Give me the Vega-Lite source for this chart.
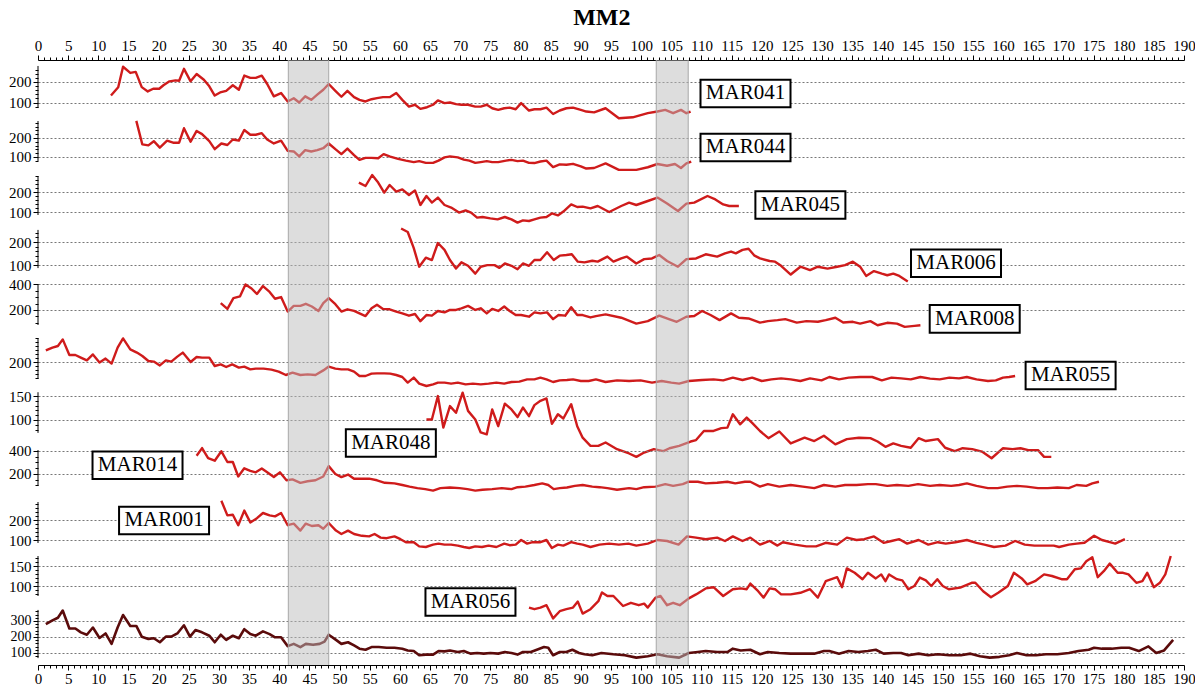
{
"$schema":"https://vega.github.io/schema/vega-lite/v6.json",
"autosize":{"type":"pad"},
"padding":{"left":8,"top":6,"right":5,"bottom":5},
"title":{"text":"MM2","font":"Liberation Serif","fontSize":24,"fontWeight":"bold","anchor":"middle","color":"#000","offset":8},
"config":{"view":{"stroke":null},"axis":{"labelFont":"Liberation Serif","labelFontSize":15,"labelColor":"#000","domainColor":"#000","tickColor":"#000"},"axisY":{"labelOverlap":false,"title":null,"domain":false,"labelPadding":2,"grid":true,"gridDash":[2,2],"gridColor":"#777"}},
"spacing":0,"bounds":"flush",
"datasets":{
"bands":[{"a":41.5,"b":48.2},{"a":102.5,"b":107.8}],
"d":[
{"s":"MAR041","x":12.1,"v":134},{"s":"MAR041","x":13.3,"v":174},{"s":"MAR041","x":14.1,"v":274},{"s":"MAR041","x":15.3,"v":244},{"s":"MAR041","x":16.2,"v":249},{"s":"MAR041","x":17.2,"v":175},{"s":"MAR041","x":18.2,"v":154},{"s":"MAR041","x":19.1,"v":167},{"s":"MAR041","x":20.1,"v":167},{"s":"MAR041","x":20.8,"v":184},{"s":"MAR041","x":21.8,"v":203},{"s":"MAR041","x":22.8,"v":208},{"s":"MAR041","x":23.4,"v":206},{"s":"MAR041","x":24.2,"v":264},{"s":"MAR041","x":25.3,"v":203},{"s":"MAR041","x":26.3,"v":239},{"s":"MAR041","x":27.5,"v":211},{"s":"MAR041","x":28.4,"v":179},{"s":"MAR041","x":29.3,"v":134},{"s":"MAR041","x":30.2,"v":149},{"s":"MAR041","x":31.2,"v":157},{"s":"MAR041","x":32.3,"v":184},{"s":"MAR041","x":33.3,"v":162},{"s":"MAR041","x":34.2,"v":231},{"s":"MAR041","x":35.2,"v":220},{"s":"MAR041","x":36.1,"v":220},{"s":"MAR041","x":37.1,"v":231},{"s":"MAR041","x":38.0,"v":190},{"s":"MAR041","x":39.1,"v":130},{"s":"MAR041","x":40.3,"v":146},{"s":"MAR041","x":41.4,"v":105},{"s":"MAR041","x":42.4,"v":121},{"s":"MAR041","x":43.3,"v":100},{"s":"MAR041","x":44.3,"v":130},{"s":"MAR041","x":45.3,"v":113},{"s":"MAR041","x":46.3,"v":138},{"s":"MAR041","x":47.3,"v":162},{"s":"MAR041","x":48.2,"v":190},{"s":"MAR041","x":49.3,"v":157},{"s":"MAR041","x":50.3,"v":128},{"s":"MAR041","x":51.3,"v":157},{"s":"MAR041","x":52.4,"v":126},{"s":"MAR041","x":53.3,"v":113},{"s":"MAR041","x":54.3,"v":105},{"s":"MAR041","x":55.3,"v":116},{"s":"MAR041","x":56.2,"v":121},{"s":"MAR041","x":57.2,"v":126},{"s":"MAR041","x":58.3,"v":126},{"s":"MAR041","x":59.4,"v":146},{"s":"MAR041","x":60.4,"v":113},{"s":"MAR041","x":61.5,"v":80},{"s":"MAR041","x":62.5,"v":89},{"s":"MAR041","x":63.4,"v":69},{"s":"MAR041","x":64.5,"v":77},{"s":"MAR041","x":65.5,"v":89},{"s":"MAR041","x":66.3,"v":110},{"s":"MAR041","x":67.4,"v":97},{"s":"MAR041","x":68.3,"v":100},{"s":"MAR041","x":69.3,"v":92},{"s":"MAR041","x":70.2,"v":89},{"s":"MAR041","x":71.3,"v":89},{"s":"MAR041","x":72.5,"v":80},{"s":"MAR041","x":73.4,"v":80},{"s":"MAR041","x":74.4,"v":89},{"s":"MAR041","x":75.3,"v":72},{"s":"MAR041","x":76.3,"v":64},{"s":"MAR041","x":77.3,"v":72},{"s":"MAR041","x":78.2,"v":75},{"s":"MAR041","x":79.2,"v":67},{"s":"MAR041","x":80.1,"v":97},{"s":"MAR041","x":81.4,"v":61},{"s":"MAR041","x":82.3,"v":67},{"s":"MAR041","x":83.3,"v":67},{"s":"MAR041","x":84.3,"v":75},{"s":"MAR041","x":85.4,"v":44},{"s":"MAR041","x":86.5,"v":61},{"s":"MAR041","x":87.6,"v":72},{"s":"MAR041","x":88.7,"v":75},{"s":"MAR041","x":90.0,"v":64},{"s":"MAR041","x":90.9,"v":56},{"s":"MAR041","x":92.2,"v":52},{"s":"MAR041","x":94.1,"v":72},{"s":"MAR041","x":96.3,"v":23},{"s":"MAR041","x":98.6,"v":28},{"s":"MAR041","x":101.1,"v":48},{"s":"MAR041","x":102.7,"v":56},{"s":"MAR041","x":104.0,"v":64},{"s":"MAR041","x":105.3,"v":48},{"s":"MAR041","x":106.6,"v":64},{"s":"MAR041","x":107.5,"v":48},{"s":"MAR041","x":108.2,"v":56},
{"s":"MAR044","x":16.3,"v":290},{"s":"MAR044","x":17.3,"v":166},{"s":"MAR044","x":18.3,"v":161},{"s":"MAR044","x":19.2,"v":183},{"s":"MAR044","x":20.2,"v":149},{"s":"MAR044","x":21.4,"v":186},{"s":"MAR044","x":22.4,"v":175},{"s":"MAR044","x":23.4,"v":175},{"s":"MAR044","x":24.2,"v":251},{"s":"MAR044","x":25.3,"v":180},{"s":"MAR044","x":26.3,"v":237},{"s":"MAR044","x":27.2,"v":220},{"s":"MAR044","x":28.4,"v":183},{"s":"MAR044","x":29.3,"v":141},{"s":"MAR044","x":30.4,"v":171},{"s":"MAR044","x":31.4,"v":163},{"s":"MAR044","x":32.3,"v":192},{"s":"MAR044","x":33.3,"v":186},{"s":"MAR044","x":34.2,"v":242},{"s":"MAR044","x":35.2,"v":217},{"s":"MAR044","x":36.1,"v":217},{"s":"MAR044","x":37.1,"v":225},{"s":"MAR044","x":38.0,"v":192},{"s":"MAR044","x":39.1,"v":171},{"s":"MAR044","x":40.3,"v":186},{"s":"MAR044","x":41.4,"v":132},{"s":"MAR044","x":42.4,"v":129},{"s":"MAR044","x":43.3,"v":103},{"s":"MAR044","x":44.3,"v":136},{"s":"MAR044","x":45.3,"v":129},{"s":"MAR044","x":46.3,"v":136},{"s":"MAR044","x":47.3,"v":146},{"s":"MAR044","x":48.2,"v":171},{"s":"MAR044","x":49.3,"v":141},{"s":"MAR044","x":50.3,"v":115},{"s":"MAR044","x":51.3,"v":144},{"s":"MAR044","x":52.4,"v":110},{"s":"MAR044","x":53.3,"v":85},{"s":"MAR044","x":54.3,"v":95},{"s":"MAR044","x":55.3,"v":95},{"s":"MAR044","x":56.4,"v":93},{"s":"MAR044","x":57.3,"v":115},{"s":"MAR044","x":58.4,"v":102},{"s":"MAR044","x":59.7,"v":90},{"s":"MAR044","x":61.0,"v":81},{"s":"MAR044","x":62.3,"v":73},{"s":"MAR044","x":63.2,"v":78},{"s":"MAR044","x":64.3,"v":69},{"s":"MAR044","x":65.5,"v":69},{"s":"MAR044","x":66.4,"v":81},{"s":"MAR044","x":67.4,"v":98},{"s":"MAR044","x":68.3,"v":103},{"s":"MAR044","x":69.6,"v":98},{"s":"MAR044","x":70.6,"v":86},{"s":"MAR044","x":71.5,"v":81},{"s":"MAR044","x":72.5,"v":69},{"s":"MAR044","x":73.4,"v":73},{"s":"MAR044","x":74.4,"v":78},{"s":"MAR044","x":75.3,"v":73},{"s":"MAR044","x":76.3,"v":73},{"s":"MAR044","x":77.6,"v":81},{"s":"MAR044","x":78.5,"v":85},{"s":"MAR044","x":79.5,"v":78},{"s":"MAR044","x":80.4,"v":81},{"s":"MAR044","x":81.4,"v":69},{"s":"MAR044","x":82.3,"v":68},{"s":"MAR044","x":83.3,"v":76},{"s":"MAR044","x":84.3,"v":81},{"s":"MAR044","x":85.4,"v":47},{"s":"MAR044","x":86.5,"v":61},{"s":"MAR044","x":87.6,"v":59},{"s":"MAR044","x":88.7,"v":64},{"s":"MAR044","x":90.0,"v":51},{"s":"MAR044","x":90.9,"v":39},{"s":"MAR044","x":92.2,"v":42},{"s":"MAR044","x":94.1,"v":66},{"s":"MAR044","x":96.3,"v":32},{"s":"MAR044","x":99.2,"v":32},{"s":"MAR044","x":101.1,"v":46},{"s":"MAR044","x":102.7,"v":63},{"s":"MAR044","x":104.3,"v":54},{"s":"MAR044","x":105.6,"v":63},{"s":"MAR044","x":106.6,"v":42},{"s":"MAR044","x":107.5,"v":66},{"s":"MAR044","x":108.3,"v":76},
{"s":"MAR045","x":53.2,"v":247},{"s":"MAR045","x":54.3,"v":230},{"s":"MAR045","x":55.4,"v":285},{"s":"MAR045","x":56.4,"v":247},{"s":"MAR045","x":57.4,"v":197},{"s":"MAR045","x":58.3,"v":235},{"s":"MAR045","x":59.4,"v":202},{"s":"MAR045","x":60.4,"v":213},{"s":"MAR045","x":61.5,"v":185},{"s":"MAR045","x":62.5,"v":208},{"s":"MAR045","x":63.4,"v":135},{"s":"MAR045","x":64.4,"v":180},{"s":"MAR045","x":65.3,"v":147},{"s":"MAR045","x":66.3,"v":172},{"s":"MAR045","x":67.4,"v":135},{"s":"MAR045","x":68.5,"v":122},{"s":"MAR045","x":69.8,"v":97},{"s":"MAR045","x":70.9,"v":108},{"s":"MAR045","x":71.8,"v":97},{"s":"MAR045","x":72.8,"v":72},{"s":"MAR045","x":73.7,"v":75},{"s":"MAR045","x":75.0,"v":68},{"s":"MAR045","x":76.2,"v":63},{"s":"MAR045","x":77.4,"v":75},{"s":"MAR045","x":78.5,"v":63},{"s":"MAR045","x":79.5,"v":47},{"s":"MAR045","x":80.4,"v":58},{"s":"MAR045","x":81.4,"v":55},{"s":"MAR045","x":82.3,"v":63},{"s":"MAR045","x":83.3,"v":72},{"s":"MAR045","x":84.3,"v":75},{"s":"MAR045","x":85.2,"v":93},{"s":"MAR045","x":86.2,"v":83},{"s":"MAR045","x":87.1,"v":102},{"s":"MAR045","x":88.4,"v":138},{"s":"MAR045","x":89.4,"v":125},{"s":"MAR045","x":90.3,"v":127},{"s":"MAR045","x":91.6,"v":118},{"s":"MAR045","x":92.8,"v":130},{"s":"MAR045","x":94.7,"v":100},{"s":"MAR045","x":96.7,"v":130},{"s":"MAR045","x":98.0,"v":147},{"s":"MAR045","x":99.2,"v":135},{"s":"MAR045","x":101.1,"v":155},{"s":"MAR045","x":102.7,"v":172},{"s":"MAR045","x":104.3,"v":142},{"s":"MAR045","x":106.1,"v":105},{"s":"MAR045","x":107.5,"v":142},{"s":"MAR045","x":108.8,"v":147},{"s":"MAR045","x":111.0,"v":180},{"s":"MAR045","x":112.3,"v":163},{"s":"MAR045","x":113.6,"v":138},{"s":"MAR045","x":114.6,"v":130},{"s":"MAR045","x":116.2,"v":130},
{"s":"MAR006","x":60.2,"v":259},{"s":"MAR006","x":61.3,"v":244},{"s":"MAR006","x":62.3,"v":174},{"s":"MAR006","x":63.2,"v":93},{"s":"MAR006","x":64.3,"v":132},{"s":"MAR006","x":65.3,"v":122},{"s":"MAR006","x":66.3,"v":196},{"s":"MAR006","x":67.4,"v":166},{"s":"MAR006","x":68.3,"v":122},{"s":"MAR006","x":69.3,"v":85},{"s":"MAR006","x":70.2,"v":112},{"s":"MAR006","x":71.3,"v":97},{"s":"MAR006","x":72.5,"v":63},{"s":"MAR006","x":73.4,"v":93},{"s":"MAR006","x":74.5,"v":100},{"s":"MAR006","x":75.7,"v":100},{"s":"MAR006","x":76.5,"v":88},{"s":"MAR006","x":77.4,"v":107},{"s":"MAR006","x":78.5,"v":97},{"s":"MAR006","x":79.5,"v":82},{"s":"MAR006","x":80.4,"v":107},{"s":"MAR006","x":81.4,"v":97},{"s":"MAR006","x":82.3,"v":122},{"s":"MAR006","x":83.3,"v":122},{"s":"MAR006","x":84.4,"v":156},{"s":"MAR006","x":85.5,"v":122},{"s":"MAR006","x":86.5,"v":141},{"s":"MAR006","x":87.6,"v":144},{"s":"MAR006","x":88.5,"v":147},{"s":"MAR006","x":89.5,"v":115},{"s":"MAR006","x":90.6,"v":112},{"s":"MAR006","x":91.9,"v":119},{"s":"MAR006","x":92.8,"v":115},{"s":"MAR006","x":94.4,"v":137},{"s":"MAR006","x":95.4,"v":115},{"s":"MAR006","x":96.7,"v":129},{"s":"MAR006","x":97.6,"v":137},{"s":"MAR006","x":99.2,"v":107},{"s":"MAR006","x":100.5,"v":126},{"s":"MAR006","x":101.8,"v":129},{"s":"MAR006","x":103.0,"v":144},{"s":"MAR006","x":104.3,"v":118},{"s":"MAR006","x":106.1,"v":93},{"s":"MAR006","x":107.5,"v":126},{"s":"MAR006","x":109.1,"v":129},{"s":"MAR006","x":110.7,"v":147},{"s":"MAR006","x":112.6,"v":137},{"s":"MAR006","x":113.9,"v":151},{"s":"MAR006","x":114.9,"v":159},{"s":"MAR006","x":115.7,"v":151},{"s":"MAR006","x":116.8,"v":166},{"s":"MAR006","x":117.8,"v":171},{"s":"MAR006","x":118.8,"v":141},{"s":"MAR006","x":119.7,"v":129},{"s":"MAR006","x":121.3,"v":118},{"s":"MAR006","x":122.2,"v":115},{"s":"MAR006","x":123.2,"v":97},{"s":"MAR006","x":124.8,"v":59},{"s":"MAR006","x":126.4,"v":93},{"s":"MAR006","x":128.0,"v":78},{"s":"MAR006","x":129.3,"v":93},{"s":"MAR006","x":130.9,"v":85},{"s":"MAR006","x":132.5,"v":93},{"s":"MAR006","x":133.8,"v":100},{"s":"MAR006","x":135.1,"v":115},{"s":"MAR006","x":136.3,"v":93},{"s":"MAR006","x":137.3,"v":53},{"s":"MAR006","x":138.6,"v":74},{"s":"MAR006","x":139.9,"v":63},{"s":"MAR006","x":140.8,"v":56},{"s":"MAR006","x":141.8,"v":63},{"s":"MAR006","x":142.8,"v":53},{"s":"MAR006","x":144.2,"v":29},
{"s":"MAR008","x":30.3,"v":253},{"s":"MAR008","x":31.4,"v":208},{"s":"MAR008","x":32.4,"v":293},{"s":"MAR008","x":33.5,"v":307},{"s":"MAR008","x":34.4,"v":400},{"s":"MAR008","x":35.4,"v":368},{"s":"MAR008","x":36.3,"v":325},{"s":"MAR008","x":37.3,"v":387},{"s":"MAR008","x":38.4,"v":341},{"s":"MAR008","x":39.3,"v":288},{"s":"MAR008","x":40.3,"v":301},{"s":"MAR008","x":41.4,"v":187},{"s":"MAR008","x":42.4,"v":232},{"s":"MAR008","x":43.5,"v":232},{"s":"MAR008","x":44.4,"v":248},{"s":"MAR008","x":45.4,"v":227},{"s":"MAR008","x":46.5,"v":192},{"s":"MAR008","x":47.3,"v":253},{"s":"MAR008","x":48.2,"v":293},{"s":"MAR008","x":49.3,"v":245},{"s":"MAR008","x":50.3,"v":187},{"s":"MAR008","x":51.3,"v":205},{"s":"MAR008","x":52.4,"v":192},{"s":"MAR008","x":53.3,"v":173},{"s":"MAR008","x":54.3,"v":152},{"s":"MAR008","x":55.3,"v":213},{"s":"MAR008","x":56.2,"v":240},{"s":"MAR008","x":57.2,"v":208},{"s":"MAR008","x":58.3,"v":205},{"s":"MAR008","x":59.4,"v":187},{"s":"MAR008","x":60.4,"v":173},{"s":"MAR008","x":61.5,"v":155},{"s":"MAR008","x":62.5,"v":168},{"s":"MAR008","x":63.4,"v":112},{"s":"MAR008","x":64.4,"v":160},{"s":"MAR008","x":65.3,"v":155},{"s":"MAR008","x":66.3,"v":192},{"s":"MAR008","x":67.4,"v":181},{"s":"MAR008","x":68.3,"v":200},{"s":"MAR008","x":69.3,"v":200},{"s":"MAR008","x":70.2,"v":213},{"s":"MAR008","x":71.3,"v":232},{"s":"MAR008","x":72.5,"v":200},{"s":"MAR008","x":73.4,"v":213},{"s":"MAR008","x":74.4,"v":173},{"s":"MAR008","x":75.3,"v":208},{"s":"MAR008","x":76.3,"v":192},{"s":"MAR008","x":77.3,"v":227},{"s":"MAR008","x":78.2,"v":192},{"s":"MAR008","x":79.2,"v":160},{"s":"MAR008","x":80.1,"v":160},{"s":"MAR008","x":81.4,"v":147},{"s":"MAR008","x":82.3,"v":181},{"s":"MAR008","x":83.3,"v":173},{"s":"MAR008","x":84.4,"v":181},{"s":"MAR008","x":85.4,"v":128},{"s":"MAR008","x":86.3,"v":160},{"s":"MAR008","x":87.4,"v":155},{"s":"MAR008","x":88.4,"v":221},{"s":"MAR008","x":89.4,"v":160},{"s":"MAR008","x":90.3,"v":160},{"s":"MAR008","x":91.6,"v":141},{"s":"MAR008","x":92.5,"v":152},{"s":"MAR008","x":94.1,"v":165},{"s":"MAR008","x":96.7,"v":139},{"s":"MAR008","x":99.2,"v":93},{"s":"MAR008","x":101.1,"v":112},{"s":"MAR008","x":103.0,"v":155},{"s":"MAR008","x":104.6,"v":128},{"s":"MAR008","x":105.9,"v":107},{"s":"MAR008","x":107.5,"v":147},{"s":"MAR008","x":108.8,"v":152},{"s":"MAR008","x":110.1,"v":192},{"s":"MAR008","x":111.5,"v":160},{"s":"MAR008","x":113.0,"v":120},{"s":"MAR008","x":114.9,"v":173},{"s":"MAR008","x":116.2,"v":139},{"s":"MAR008","x":117.8,"v":133},{"s":"MAR008","x":119.7,"v":101},{"s":"MAR008","x":121.0,"v":112},{"s":"MAR008","x":122.6,"v":120},{"s":"MAR008","x":123.9,"v":128},{"s":"MAR008","x":125.8,"v":101},{"s":"MAR008","x":127.4,"v":112},{"s":"MAR008","x":129.3,"v":107},{"s":"MAR008","x":130.6,"v":120},{"s":"MAR008","x":132.2,"v":139},{"s":"MAR008","x":133.5,"v":101},{"s":"MAR008","x":135.1,"v":107},{"s":"MAR008","x":136.3,"v":93},{"s":"MAR008","x":138.0,"v":112},{"s":"MAR008","x":139.2,"v":80},{"s":"MAR008","x":140.8,"v":99},{"s":"MAR008","x":142.4,"v":93},{"s":"MAR008","x":143.7,"v":67},{"s":"MAR008","x":145.3,"v":75},{"s":"MAR008","x":146.3,"v":80},
{"s":"MAR055","x":1.3,"v":258},{"s":"MAR055","x":2.4,"v":272},{"s":"MAR055","x":3.3,"v":280},{"s":"MAR055","x":4.1,"v":313},{"s":"MAR055","x":5.2,"v":235},{"s":"MAR055","x":6.2,"v":235},{"s":"MAR055","x":7.1,"v":222},{"s":"MAR055","x":8.1,"v":208},{"s":"MAR055","x":9.1,"v":238},{"s":"MAR055","x":10.2,"v":197},{"s":"MAR055","x":11.2,"v":217},{"s":"MAR055","x":12.2,"v":192},{"s":"MAR055","x":13.2,"v":272},{"s":"MAR055","x":14.1,"v":318},{"s":"MAR055","x":15.3,"v":263},{"s":"MAR055","x":16.4,"v":247},{"s":"MAR055","x":17.3,"v":230},{"s":"MAR055","x":18.3,"v":205},{"s":"MAR055","x":19.2,"v":202},{"s":"MAR055","x":20.2,"v":183},{"s":"MAR055","x":21.2,"v":208},{"s":"MAR055","x":22.1,"v":202},{"s":"MAR055","x":23.1,"v":227},{"s":"MAR055","x":24.0,"v":247},{"s":"MAR055","x":25.3,"v":200},{"s":"MAR055","x":26.3,"v":225},{"s":"MAR055","x":27.2,"v":222},{"s":"MAR055","x":28.4,"v":222},{"s":"MAR055","x":29.3,"v":180},{"s":"MAR055","x":30.3,"v":188},{"s":"MAR055","x":31.2,"v":175},{"s":"MAR055","x":32.2,"v":188},{"s":"MAR055","x":33.3,"v":172},{"s":"MAR055","x":34.2,"v":177},{"s":"MAR055","x":35.2,"v":163},{"s":"MAR055","x":36.1,"v":167},{"s":"MAR055","x":37.4,"v":167},{"s":"MAR055","x":38.7,"v":162},{"s":"MAR055","x":39.9,"v":152},{"s":"MAR055","x":41.1,"v":135},{"s":"MAR055","x":42.2,"v":147},{"s":"MAR055","x":43.5,"v":135},{"s":"MAR055","x":44.7,"v":138},{"s":"MAR055","x":46.0,"v":135},{"s":"MAR055","x":47.3,"v":158},{"s":"MAR055","x":48.2,"v":177},{"s":"MAR055","x":49.3,"v":167},{"s":"MAR055","x":50.3,"v":163},{"s":"MAR055","x":51.4,"v":163},{"s":"MAR055","x":52.4,"v":152},{"s":"MAR055","x":53.3,"v":130},{"s":"MAR055","x":54.3,"v":130},{"s":"MAR055","x":55.3,"v":142},{"s":"MAR055","x":56.2,"v":143},{"s":"MAR055","x":57.4,"v":143},{"s":"MAR055","x":58.4,"v":142},{"s":"MAR055","x":59.4,"v":135},{"s":"MAR055","x":60.4,"v":125},{"s":"MAR055","x":61.3,"v":97},{"s":"MAR055","x":62.3,"v":122},{"s":"MAR055","x":63.2,"v":92},{"s":"MAR055","x":64.4,"v":80},{"s":"MAR055","x":65.5,"v":88},{"s":"MAR055","x":66.3,"v":97},{"s":"MAR055","x":67.4,"v":97},{"s":"MAR055","x":68.5,"v":92},{"s":"MAR055","x":69.6,"v":97},{"s":"MAR055","x":70.9,"v":88},{"s":"MAR055","x":72.1,"v":92},{"s":"MAR055","x":73.4,"v":88},{"s":"MAR055","x":74.7,"v":92},{"s":"MAR055","x":76.0,"v":97},{"s":"MAR055","x":77.3,"v":92},{"s":"MAR055","x":78.5,"v":100},{"s":"MAR055","x":79.8,"v":102},{"s":"MAR055","x":81.1,"v":113},{"s":"MAR055","x":82.3,"v":113},{"s":"MAR055","x":83.3,"v":122},{"s":"MAR055","x":84.3,"v":113},{"s":"MAR055","x":85.4,"v":100},{"s":"MAR055","x":86.5,"v":108},{"s":"MAR055","x":87.7,"v":110},{"s":"MAR055","x":88.7,"v":113},{"s":"MAR055","x":90.0,"v":105},{"s":"MAR055","x":91.3,"v":105},{"s":"MAR055","x":92.5,"v":113},{"s":"MAR055","x":94.1,"v":100},{"s":"MAR055","x":96.0,"v":108},{"s":"MAR055","x":98.0,"v":105},{"s":"MAR055","x":99.9,"v":108},{"s":"MAR055","x":101.8,"v":97},{"s":"MAR055","x":103.4,"v":105},{"s":"MAR055","x":105.0,"v":97},{"s":"MAR055","x":106.3,"v":92},{"s":"MAR055","x":107.9,"v":105},{"s":"MAR055","x":110.1,"v":110},{"s":"MAR055","x":112.0,"v":113},{"s":"MAR055","x":113.6,"v":108},{"s":"MAR055","x":115.2,"v":122},{"s":"MAR055","x":116.8,"v":110},{"s":"MAR055","x":118.4,"v":122},{"s":"MAR055","x":120.0,"v":105},{"s":"MAR055","x":121.6,"v":113},{"s":"MAR055","x":123.2,"v":118},{"s":"MAR055","x":124.8,"v":113},{"s":"MAR055","x":126.4,"v":105},{"s":"MAR055","x":128.0,"v":118},{"s":"MAR055","x":129.9,"v":108},{"s":"MAR055","x":131.2,"v":125},{"s":"MAR055","x":132.8,"v":113},{"s":"MAR055","x":134.4,"v":122},{"s":"MAR055","x":136.3,"v":125},{"s":"MAR055","x":138.3,"v":125},{"s":"MAR055","x":139.9,"v":108},{"s":"MAR055","x":141.5,"v":122},{"s":"MAR055","x":143.1,"v":118},{"s":"MAR055","x":144.7,"v":113},{"s":"MAR055","x":146.3,"v":125},{"s":"MAR055","x":147.9,"v":117},{"s":"MAR055","x":149.5,"v":113},{"s":"MAR055","x":151.1,"v":122},{"s":"MAR055","x":152.7,"v":118},{"s":"MAR055","x":154.0,"v":125},{"s":"MAR055","x":155.6,"v":113},{"s":"MAR055","x":157.5,"v":105},{"s":"MAR055","x":158.8,"v":108},{"s":"MAR055","x":160.0,"v":122},{"s":"MAR055","x":161.0,"v":125},{"s":"MAR055","x":162.0,"v":130},
{"s":"MAR048","x":64.4,"v":101},{"s":"MAR048","x":65.3,"v":101},{"s":"MAR048","x":66.3,"v":150},{"s":"MAR048","x":67.2,"v":84},{"s":"MAR048","x":68.3,"v":129},{"s":"MAR048","x":69.3,"v":115},{"s":"MAR048","x":70.4,"v":157},{"s":"MAR048","x":71.3,"v":119},{"s":"MAR048","x":72.5,"v":101},{"s":"MAR048","x":73.4,"v":74},{"s":"MAR048","x":74.4,"v":70},{"s":"MAR048","x":75.3,"v":122},{"s":"MAR048","x":76.3,"v":87},{"s":"MAR048","x":77.4,"v":134},{"s":"MAR048","x":78.5,"v":122},{"s":"MAR048","x":79.5,"v":106},{"s":"MAR048","x":80.4,"v":126},{"s":"MAR048","x":81.4,"v":108},{"s":"MAR048","x":82.3,"v":131},{"s":"MAR048","x":83.3,"v":140},{"s":"MAR048","x":84.3,"v":145},{"s":"MAR048","x":85.2,"v":92},{"s":"MAR048","x":86.2,"v":112},{"s":"MAR048","x":87.1,"v":103},{"s":"MAR048","x":88.4,"v":133},{"s":"MAR048","x":89.4,"v":87},{"s":"MAR048","x":90.3,"v":63},{"s":"MAR048","x":91.6,"v":46},{"s":"MAR048","x":92.9,"v":46},{"s":"MAR048","x":94.1,"v":53},{"s":"MAR048","x":96.0,"v":39},{"s":"MAR048","x":98.0,"v":30},{"s":"MAR048","x":99.2,"v":23},{"s":"MAR048","x":100.5,"v":32},{"s":"MAR048","x":102.1,"v":39},{"s":"MAR048","x":103.7,"v":35},{"s":"MAR048","x":104.7,"v":41},{"s":"MAR048","x":106.3,"v":46},{"s":"MAR048","x":108.2,"v":55},{"s":"MAR048","x":109.1,"v":58},{"s":"MAR048","x":110.4,"v":77},{"s":"MAR048","x":112.0,"v":77},{"s":"MAR048","x":113.3,"v":83},{"s":"MAR048","x":114.3,"v":84},{"s":"MAR048","x":115.2,"v":112},{"s":"MAR048","x":116.4,"v":91},{"s":"MAR048","x":117.5,"v":105},{"s":"MAR048","x":118.4,"v":94},{"s":"MAR048","x":119.7,"v":77},{"s":"MAR048","x":121.1,"v":62},{"s":"MAR048","x":122.9,"v":76},{"s":"MAR048","x":124.8,"v":51},{"s":"MAR048","x":127.1,"v":63},{"s":"MAR048","x":128.7,"v":56},{"s":"MAR048","x":130.3,"v":67},{"s":"MAR048","x":132.2,"v":49},{"s":"MAR048","x":134.1,"v":60},{"s":"MAR048","x":136.1,"v":63},{"s":"MAR048","x":138.0,"v":62},{"s":"MAR048","x":139.2,"v":55},{"s":"MAR048","x":140.5,"v":44},{"s":"MAR048","x":141.8,"v":51},{"s":"MAR048","x":143.1,"v":46},{"s":"MAR048","x":144.7,"v":42},{"s":"MAR048","x":146.0,"v":62},{"s":"MAR048","x":147.2,"v":56},{"s":"MAR048","x":149.2,"v":60},{"s":"MAR048","x":150.4,"v":42},{"s":"MAR048","x":152.0,"v":35},{"s":"MAR048","x":153.3,"v":41},{"s":"MAR048","x":154.9,"v":39},{"s":"MAR048","x":156.5,"v":34},{"s":"MAR048","x":158.1,"v":20},{"s":"MAR048","x":160.0,"v":41},{"s":"MAR048","x":161.6,"v":39},{"s":"MAR048","x":162.9,"v":41},{"s":"MAR048","x":164.2,"v":37},{"s":"MAR048","x":165.8,"v":37},{"s":"MAR048","x":166.8,"v":23},{"s":"MAR048","x":168.0,"v":23},
{"s":"MAR014","x":26.3,"v":359},{"s":"MAR014","x":27.2,"v":425},{"s":"MAR014","x":28.2,"v":337},{"s":"MAR014","x":29.3,"v":315},{"s":"MAR014","x":30.4,"v":397},{"s":"MAR014","x":31.4,"v":304},{"s":"MAR014","x":32.3,"v":304},{"s":"MAR014","x":33.2,"v":178},{"s":"MAR014","x":34.2,"v":249},{"s":"MAR014","x":35.2,"v":227},{"s":"MAR014","x":36.1,"v":214},{"s":"MAR014","x":37.1,"v":247},{"s":"MAR014","x":38.0,"v":214},{"s":"MAR014","x":39.1,"v":173},{"s":"MAR014","x":40.1,"v":214},{"s":"MAR014","x":41.2,"v":145},{"s":"MAR014","x":42.2,"v":153},{"s":"MAR014","x":43.5,"v":123},{"s":"MAR014","x":44.7,"v":137},{"s":"MAR014","x":46.0,"v":145},{"s":"MAR014","x":47.3,"v":178},{"s":"MAR014","x":48.2,"v":268},{"s":"MAR014","x":49.3,"v":200},{"s":"MAR014","x":50.3,"v":173},{"s":"MAR014","x":51.4,"v":195},{"s":"MAR014","x":52.4,"v":159},{"s":"MAR014","x":53.7,"v":159},{"s":"MAR014","x":54.9,"v":159},{"s":"MAR014","x":56.2,"v":145},{"s":"MAR014","x":57.5,"v":123},{"s":"MAR014","x":59.1,"v":118},{"s":"MAR014","x":60.4,"v":104},{"s":"MAR014","x":61.6,"v":90},{"s":"MAR014","x":62.9,"v":77},{"s":"MAR014","x":64.2,"v":68},{"s":"MAR014","x":65.5,"v":55},{"s":"MAR014","x":66.7,"v":77},{"s":"MAR014","x":68.3,"v":82},{"s":"MAR014","x":69.9,"v":77},{"s":"MAR014","x":71.2,"v":68},{"s":"MAR014","x":72.5,"v":55},{"s":"MAR014","x":73.7,"v":63},{"s":"MAR014","x":75.3,"v":68},{"s":"MAR014","x":76.9,"v":77},{"s":"MAR014","x":78.5,"v":68},{"s":"MAR014","x":79.5,"v":85},{"s":"MAR014","x":80.8,"v":90},{"s":"MAR014","x":82.3,"v":104},{"s":"MAR014","x":83.6,"v":118},{"s":"MAR014","x":84.6,"v":104},{"s":"MAR014","x":85.5,"v":68},{"s":"MAR014","x":86.5,"v":77},{"s":"MAR014","x":87.7,"v":82},{"s":"MAR014","x":89.0,"v":96},{"s":"MAR014","x":90.3,"v":104},{"s":"MAR014","x":91.9,"v":90},{"s":"MAR014","x":93.1,"v":85},{"s":"MAR014","x":94.4,"v":77},{"s":"MAR014","x":96.0,"v":63},{"s":"MAR014","x":98.0,"v":77},{"s":"MAR014","x":99.2,"v":68},{"s":"MAR014","x":100.5,"v":85},{"s":"MAR014","x":102.4,"v":90},{"s":"MAR014","x":104.0,"v":112},{"s":"MAR014","x":105.3,"v":96},{"s":"MAR014","x":106.9,"v":112},{"s":"MAR014","x":107.8,"v":132},{"s":"MAR014","x":109.4,"v":132},{"s":"MAR014","x":110.7,"v":118},{"s":"MAR014","x":112.6,"v":123},{"s":"MAR014","x":114.3,"v":132},{"s":"MAR014","x":115.6,"v":118},{"s":"MAR014","x":117.2,"v":132},{"s":"MAR014","x":118.1,"v":132},{"s":"MAR014","x":119.7,"v":90},{"s":"MAR014","x":121.0,"v":112},{"s":"MAR014","x":122.9,"v":90},{"s":"MAR014","x":124.8,"v":104},{"s":"MAR014","x":126.8,"v":90},{"s":"MAR014","x":128.7,"v":77},{"s":"MAR014","x":130.3,"v":104},{"s":"MAR014","x":132.2,"v":90},{"s":"MAR014","x":133.8,"v":104},{"s":"MAR014","x":135.7,"v":104},{"s":"MAR014","x":137.6,"v":112},{"s":"MAR014","x":138.9,"v":112},{"s":"MAR014","x":140.8,"v":96},{"s":"MAR014","x":142.4,"v":104},{"s":"MAR014","x":144.3,"v":96},{"s":"MAR014","x":145.9,"v":112},{"s":"MAR014","x":147.9,"v":96},{"s":"MAR014","x":149.5,"v":104},{"s":"MAR014","x":151.4,"v":96},{"s":"MAR014","x":152.7,"v":104},{"s":"MAR014","x":154.0,"v":118},{"s":"MAR014","x":155.6,"v":96},{"s":"MAR014","x":157.5,"v":77},{"s":"MAR014","x":159.1,"v":77},{"s":"MAR014","x":160.7,"v":90},{"s":"MAR014","x":162.3,"v":96},{"s":"MAR014","x":163.9,"v":90},{"s":"MAR014","x":165.8,"v":77},{"s":"MAR014","x":167.4,"v":77},{"s":"MAR014","x":169.0,"v":82},{"s":"MAR014","x":170.9,"v":77},{"s":"MAR014","x":172.2,"v":104},{"s":"MAR014","x":173.8,"v":96},{"s":"MAR014","x":174.8,"v":118},{"s":"MAR014","x":175.9,"v":132},
{"s":"MAR001","x":30.4,"v":296},{"s":"MAR001","x":31.4,"v":223},{"s":"MAR001","x":32.3,"v":226},{"s":"MAR001","x":33.2,"v":174},{"s":"MAR001","x":34.2,"v":247},{"s":"MAR001","x":35.2,"v":188},{"s":"MAR001","x":36.3,"v":209},{"s":"MAR001","x":37.3,"v":235},{"s":"MAR001","x":38.4,"v":223},{"s":"MAR001","x":39.3,"v":218},{"s":"MAR001","x":40.3,"v":235},{"s":"MAR001","x":41.4,"v":174},{"s":"MAR001","x":42.4,"v":182},{"s":"MAR001","x":43.5,"v":147},{"s":"MAR001","x":44.4,"v":182},{"s":"MAR001","x":45.4,"v":170},{"s":"MAR001","x":46.5,"v":174},{"s":"MAR001","x":47.3,"v":156},{"s":"MAR001","x":48.2,"v":185},{"s":"MAR001","x":49.4,"v":147},{"s":"MAR001","x":50.3,"v":130},{"s":"MAR001","x":51.4,"v":147},{"s":"MAR001","x":52.4,"v":130},{"s":"MAR001","x":53.7,"v":121},{"s":"MAR001","x":54.9,"v":118},{"s":"MAR001","x":55.8,"v":130},{"s":"MAR001","x":56.8,"v":112},{"s":"MAR001","x":57.8,"v":109},{"s":"MAR001","x":59.1,"v":118},{"s":"MAR001","x":60.1,"v":104},{"s":"MAR001","x":61.0,"v":89},{"s":"MAR001","x":62.3,"v":89},{"s":"MAR001","x":63.2,"v":68},{"s":"MAR001","x":64.3,"v":65},{"s":"MAR001","x":65.5,"v":77},{"s":"MAR001","x":66.4,"v":82},{"s":"MAR001","x":67.4,"v":77},{"s":"MAR001","x":68.5,"v":77},{"s":"MAR001","x":69.6,"v":72},{"s":"MAR001","x":70.6,"v":65},{"s":"MAR001","x":71.5,"v":60},{"s":"MAR001","x":72.5,"v":68},{"s":"MAR001","x":73.6,"v":65},{"s":"MAR001","x":74.7,"v":72},{"s":"MAR001","x":76.0,"v":65},{"s":"MAR001","x":77.3,"v":82},{"s":"MAR001","x":78.2,"v":74},{"s":"MAR001","x":79.2,"v":77},{"s":"MAR001","x":80.1,"v":100},{"s":"MAR001","x":81.1,"v":82},{"s":"MAR001","x":82.0,"v":89},{"s":"MAR001","x":83.3,"v":89},{"s":"MAR001","x":84.3,"v":100},{"s":"MAR001","x":85.2,"v":60},{"s":"MAR001","x":86.2,"v":77},{"s":"MAR001","x":87.1,"v":72},{"s":"MAR001","x":88.4,"v":89},{"s":"MAR001","x":89.4,"v":82},{"s":"MAR001","x":90.3,"v":77},{"s":"MAR001","x":91.6,"v":65},{"s":"MAR001","x":93.1,"v":77},{"s":"MAR001","x":94.7,"v":82},{"s":"MAR001","x":96.3,"v":77},{"s":"MAR001","x":97.9,"v":82},{"s":"MAR001","x":99.2,"v":72},{"s":"MAR001","x":101.1,"v":82},{"s":"MAR001","x":102.7,"v":100},{"s":"MAR001","x":104.3,"v":95},{"s":"MAR001","x":106.2,"v":77},{"s":"MAR001","x":107.6,"v":118},{"s":"MAR001","x":109.1,"v":112},{"s":"MAR001","x":110.7,"v":104},{"s":"MAR001","x":112.6,"v":112},{"s":"MAR001","x":113.9,"v":95},{"s":"MAR001","x":115.2,"v":118},{"s":"MAR001","x":116.8,"v":95},{"s":"MAR001","x":118.1,"v":112},{"s":"MAR001","x":119.7,"v":77},{"s":"MAR001","x":121.3,"v":95},{"s":"MAR001","x":122.6,"v":72},{"s":"MAR001","x":123.5,"v":89},{"s":"MAR001","x":125.5,"v":77},{"s":"MAR001","x":127.4,"v":68},{"s":"MAR001","x":129.0,"v":68},{"s":"MAR001","x":130.6,"v":86},{"s":"MAR001","x":132.5,"v":77},{"s":"MAR001","x":134.1,"v":112},{"s":"MAR001","x":135.7,"v":100},{"s":"MAR001","x":137.0,"v":104},{"s":"MAR001","x":138.6,"v":118},{"s":"MAR001","x":140.2,"v":86},{"s":"MAR001","x":141.5,"v":95},{"s":"MAR001","x":142.8,"v":104},{"s":"MAR001","x":144.1,"v":82},{"s":"MAR001","x":146.0,"v":100},{"s":"MAR001","x":147.6,"v":77},{"s":"MAR001","x":149.2,"v":89},{"s":"MAR001","x":150.5,"v":82},{"s":"MAR001","x":152.1,"v":89},{"s":"MAR001","x":154.0,"v":100},{"s":"MAR001","x":155.6,"v":86},{"s":"MAR001","x":156.9,"v":77},{"s":"MAR001","x":158.5,"v":65},{"s":"MAR001","x":160.4,"v":72},{"s":"MAR001","x":162.0,"v":95},{"s":"MAR001","x":163.6,"v":77},{"s":"MAR001","x":165.2,"v":72},{"s":"MAR001","x":166.8,"v":72},{"s":"MAR001","x":168.4,"v":72},{"s":"MAR001","x":169.3,"v":65},{"s":"MAR001","x":170.9,"v":77},{"s":"MAR001","x":172.2,"v":82},{"s":"MAR001","x":173.5,"v":86},{"s":"MAR001","x":175.1,"v":121},{"s":"MAR001","x":176.4,"v":100},{"s":"MAR001","x":177.7,"v":89},{"s":"MAR001","x":178.6,"v":82},{"s":"MAR001","x":180.2,"v":104},
{"s":"MAR056","x":81.4,"v":46},{"s":"MAR056","x":82.3,"v":42},{"s":"MAR056","x":83.3,"v":46},{"s":"MAR056","x":84.3,"v":52},{"s":"MAR056","x":85.4,"v":19},{"s":"MAR056","x":86.5,"v":37},{"s":"MAR056","x":87.6,"v":42},{"s":"MAR056","x":88.7,"v":46},{"s":"MAR056","x":89.5,"v":61},{"s":"MAR056","x":90.3,"v":31},{"s":"MAR056","x":91.6,"v":42},{"s":"MAR056","x":92.9,"v":62},{"s":"MAR056","x":93.5,"v":84},{"s":"MAR056","x":94.4,"v":75},{"s":"MAR056","x":95.4,"v":75},{"s":"MAR056","x":97.0,"v":50},{"s":"MAR056","x":98.3,"v":58},{"s":"MAR056","x":99.6,"v":52},{"s":"MAR056","x":100.5,"v":56},{"s":"MAR056","x":101.1,"v":46},{"s":"MAR056","x":102.4,"v":71},{"s":"MAR056","x":103.2,"v":75},{"s":"MAR056","x":104.3,"v":52},{"s":"MAR056","x":105.3,"v":58},{"s":"MAR056","x":106.4,"v":52},{"s":"MAR056","x":107.9,"v":69},{"s":"MAR056","x":109.1,"v":79},{"s":"MAR056","x":110.7,"v":94},{"s":"MAR056","x":112.0,"v":97},{"s":"MAR056","x":113.6,"v":75},{"s":"MAR056","x":115.2,"v":92},{"s":"MAR056","x":116.5,"v":94},{"s":"MAR056","x":117.5,"v":92},{"s":"MAR056","x":118.1,"v":106},{"s":"MAR056","x":119.4,"v":87},{"s":"MAR056","x":120.3,"v":71},{"s":"MAR056","x":121.3,"v":94},{"s":"MAR056","x":122.2,"v":92},{"s":"MAR056","x":123.2,"v":79},{"s":"MAR056","x":124.8,"v":79},{"s":"MAR056","x":126.4,"v":83},{"s":"MAR056","x":128.0,"v":92},{"s":"MAR056","x":129.3,"v":71},{"s":"MAR056","x":130.6,"v":112},{"s":"MAR056","x":132.5,"v":122},{"s":"MAR056","x":133.3,"v":97},{"s":"MAR056","x":134.1,"v":144},{"s":"MAR056","x":135.4,"v":133},{"s":"MAR056","x":136.7,"v":117},{"s":"MAR056","x":137.6,"v":133},{"s":"MAR056","x":138.9,"v":119},{"s":"MAR056","x":139.8,"v":129},{"s":"MAR056","x":140.5,"v":112},{"s":"MAR056","x":141.1,"v":129},{"s":"MAR056","x":142.4,"v":117},{"s":"MAR056","x":143.3,"v":114},{"s":"MAR056","x":144.3,"v":92},{"s":"MAR056","x":145.3,"v":100},{"s":"MAR056","x":146.2,"v":121},{"s":"MAR056","x":147.2,"v":114},{"s":"MAR056","x":148.1,"v":100},{"s":"MAR056","x":149.1,"v":117},{"s":"MAR056","x":150.0,"v":100},{"s":"MAR056","x":151.0,"v":92},{"s":"MAR056","x":152.9,"v":96},{"s":"MAR056","x":154.8,"v":108},{"s":"MAR056","x":155.4,"v":108},{"s":"MAR056","x":156.7,"v":87},{"s":"MAR056","x":158.0,"v":72},{"s":"MAR056","x":159.2,"v":83},{"s":"MAR056","x":160.8,"v":100},{"s":"MAR056","x":161.8,"v":133},{"s":"MAR056","x":163.1,"v":119},{"s":"MAR056","x":164.0,"v":104},{"s":"MAR056","x":165.3,"v":112},{"s":"MAR056","x":166.8,"v":129},{"s":"MAR056","x":168.1,"v":125},{"s":"MAR056","x":169.7,"v":117},{"s":"MAR056","x":170.6,"v":117},{"s":"MAR056","x":171.9,"v":142},{"s":"MAR056","x":172.9,"v":144},{"s":"MAR056","x":173.8,"v":162},{"s":"MAR056","x":174.8,"v":172},{"s":"MAR056","x":175.7,"v":122},{"s":"MAR056","x":176.7,"v":137},{"s":"MAR056","x":177.7,"v":156},{"s":"MAR056","x":179.0,"v":133},{"s":"MAR056","x":179.9,"v":133},{"s":"MAR056","x":180.8,"v":129},{"s":"MAR056","x":182.1,"v":108},{"s":"MAR056","x":183.1,"v":112},{"s":"MAR056","x":183.9,"v":133},{"s":"MAR056","x":185.0,"v":97},{"s":"MAR056","x":186.0,"v":108},{"s":"MAR056","x":186.9,"v":129},{"s":"MAR056","x":187.8,"v":175},
{"s":"ALL","x":1.3,"v":280},{"s":"ALL","x":2.4,"v":304},{"s":"ALL","x":3.3,"v":320},{"s":"ALL","x":4.1,"v":365},{"s":"ALL","x":5.2,"v":253},{"s":"ALL","x":6.2,"v":253},{"s":"ALL","x":7.1,"v":229},{"s":"ALL","x":8.1,"v":214},{"s":"ALL","x":9.1,"v":259},{"s":"ALL","x":10.2,"v":194},{"s":"ALL","x":11.2,"v":222},{"s":"ALL","x":12.2,"v":157},{"s":"ALL","x":13.2,"v":259},{"s":"ALL","x":14.1,"v":337},{"s":"ALL","x":15.3,"v":269},{"s":"ALL","x":16.3,"v":269},{"s":"ALL","x":17.2,"v":202},{"s":"ALL","x":18.3,"v":188},{"s":"ALL","x":19.2,"v":192},{"s":"ALL","x":20.2,"v":167},{"s":"ALL","x":21.2,"v":202},{"s":"ALL","x":22.1,"v":202},{"s":"ALL","x":23.1,"v":222},{"s":"ALL","x":24.2,"v":273},{"s":"ALL","x":25.2,"v":202},{"s":"ALL","x":26.1,"v":243},{"s":"ALL","x":27.2,"v":229},{"s":"ALL","x":28.4,"v":208},{"s":"ALL","x":29.3,"v":167},{"s":"ALL","x":30.3,"v":214},{"s":"ALL","x":31.2,"v":182},{"s":"ALL","x":32.3,"v":208},{"s":"ALL","x":33.3,"v":192},{"s":"ALL","x":34.2,"v":249},{"s":"ALL","x":35.2,"v":218},{"s":"ALL","x":36.1,"v":208},{"s":"ALL","x":37.3,"v":235},{"s":"ALL","x":38.4,"v":218},{"s":"ALL","x":39.3,"v":198},{"s":"ALL","x":40.3,"v":198},{"s":"ALL","x":41.4,"v":143},{"s":"ALL","x":42.4,"v":157},{"s":"ALL","x":43.5,"v":137},{"s":"ALL","x":44.4,"v":157},{"s":"ALL","x":45.6,"v":151},{"s":"ALL","x":46.7,"v":157},{"s":"ALL","x":47.5,"v":171},{"s":"ALL","x":48.2,"v":214},{"s":"ALL","x":49.4,"v":182},{"s":"ALL","x":50.3,"v":157},{"s":"ALL","x":51.4,"v":167},{"s":"ALL","x":52.4,"v":147},{"s":"ALL","x":53.3,"v":127},{"s":"ALL","x":54.3,"v":120},{"s":"ALL","x":55.3,"v":137},{"s":"ALL","x":56.5,"v":137},{"s":"ALL","x":57.8,"v":133},{"s":"ALL","x":59.1,"v":133},{"s":"ALL","x":60.4,"v":127},{"s":"ALL","x":61.3,"v":116},{"s":"ALL","x":62.3,"v":112},{"s":"ALL","x":63.2,"v":86},{"s":"ALL","x":64.3,"v":90},{"s":"ALL","x":65.5,"v":90},{"s":"ALL","x":66.4,"v":112},{"s":"ALL","x":67.4,"v":110},{"s":"ALL","x":68.3,"v":116},{"s":"ALL","x":69.6,"v":106},{"s":"ALL","x":70.6,"v":112},{"s":"ALL","x":71.7,"v":96},{"s":"ALL","x":72.8,"v":100},{"s":"ALL","x":73.9,"v":96},{"s":"ALL","x":75.0,"v":100},{"s":"ALL","x":76.3,"v":96},{"s":"ALL","x":77.4,"v":106},{"s":"ALL","x":78.5,"v":100},{"s":"ALL","x":79.5,"v":90},{"s":"ALL","x":80.4,"v":106},{"s":"ALL","x":81.7,"v":106},{"s":"ALL","x":82.7,"v":120},{"s":"ALL","x":83.9,"v":137},{"s":"ALL","x":84.6,"v":133},{"s":"ALL","x":85.4,"v":86},{"s":"ALL","x":86.5,"v":106},{"s":"ALL","x":87.6,"v":106},{"s":"ALL","x":88.6,"v":120},{"s":"ALL","x":89.7,"v":100},{"s":"ALL","x":90.6,"v":92},{"s":"ALL","x":91.9,"v":86},{"s":"ALL","x":93.4,"v":100},{"s":"ALL","x":95.4,"v":92},{"s":"ALL","x":97.3,"v":86},{"s":"ALL","x":99.2,"v":71},{"s":"ALL","x":101.1,"v":80},{"s":"ALL","x":102.7,"v":92},{"s":"ALL","x":104.3,"v":80},{"s":"ALL","x":106.3,"v":71},{"s":"ALL","x":107.9,"v":100},{"s":"ALL","x":109.4,"v":106},{"s":"ALL","x":110.7,"v":112},{"s":"ALL","x":112.6,"v":106},{"s":"ALL","x":114.3,"v":106},{"s":"ALL","x":115.2,"v":127},{"s":"ALL","x":116.5,"v":116},{"s":"ALL","x":118.1,"v":120},{"s":"ALL","x":119.7,"v":92},{"s":"ALL","x":121.0,"v":106},{"s":"ALL","x":122.9,"v":100},{"s":"ALL","x":124.8,"v":96},{"s":"ALL","x":126.8,"v":96},{"s":"ALL","x":128.7,"v":96},{"s":"ALL","x":130.3,"v":112},{"s":"ALL","x":131.2,"v":112},{"s":"ALL","x":132.8,"v":96},{"s":"ALL","x":134.4,"v":112},{"s":"ALL","x":136.0,"v":106},{"s":"ALL","x":137.6,"v":112},{"s":"ALL","x":138.9,"v":120},{"s":"ALL","x":140.2,"v":96},{"s":"ALL","x":141.8,"v":100},{"s":"ALL","x":143.1,"v":100},{"s":"ALL","x":144.3,"v":86},{"s":"ALL","x":146.0,"v":96},{"s":"ALL","x":147.6,"v":86},{"s":"ALL","x":149.2,"v":92},{"s":"ALL","x":151.1,"v":86},{"s":"ALL","x":153.0,"v":86},{"s":"ALL","x":154.6,"v":96},{"s":"ALL","x":156.2,"v":80},{"s":"ALL","x":157.8,"v":71},{"s":"ALL","x":159.4,"v":76},{"s":"ALL","x":161.0,"v":86},{"s":"ALL","x":162.3,"v":100},{"s":"ALL","x":163.9,"v":86},{"s":"ALL","x":165.5,"v":86},{"s":"ALL","x":167.1,"v":92},{"s":"ALL","x":169.0,"v":92},{"s":"ALL","x":170.9,"v":100},{"s":"ALL","x":172.5,"v":112},{"s":"ALL","x":174.2,"v":120},{"s":"ALL","x":175.1,"v":133},{"s":"ALL","x":176.4,"v":127},{"s":"ALL","x":178.0,"v":127},{"s":"ALL","x":179.6,"v":133},{"s":"ALL","x":180.9,"v":133},{"s":"ALL","x":182.5,"v":112},{"s":"ALL","x":184.1,"v":141},{"s":"ALL","x":185.4,"v":100},{"s":"ALL","x":186.7,"v":116},{"s":"ALL","x":188.2,"v":182}
]},
"vconcat":[
{"width":1146,"height":54,"layer":[
{"data":{"name":"d"},"transform":[{"filter":"datum.s==='MAR041'"}],"mark":{"type":"line","color":"#cf1b1b","strokeWidth":2.4,"strokeJoin":"round"},
"encoding":{"x":{"field":"x","type":"quantitative","scale":{"domain":[0,190],"nice":false,"zero":false},"axis":{"orient":"top","title":null,"tickCount":190,"labelExpr":"datum.value % 5 === 0 ? datum.label : ''","labelOverlap":false,"labelFlush":false,"grid":false,"tickSize":{"condition":{"test":"datum.value % 5 === 0","value":5},"value":3},"labelPadding":2}},
"y":{"field":"v","type":"quantitative","scale":{"domain":[44,307],"nice":false,"zero":false},"axis":{"tickCount":100,"values":[80,100,120,140,160,180,200,220,240,260],"labelExpr":"datum.value % 100 === 0 ? datum.label : ''","tickSize":{"condition":{"test":"datum.value % 100 === 0","value":5},"value":3},"gridOpacity":{"condition":{"test":"datum.value % 100 === 0","value":1},"value":0}}}}},
{"data":{"name":"bands"},"mark":{"type":"rect","color":"#bcbcbc","opacity":0.5},"encoding":{"x":{"field":"a","type":"quantitative"},"x2":{"field":"b"}}},
{"data":{"name":"bands"},"mark":{"type":"rule","color":"#a8a8a8","strokeWidth":1},"encoding":{"x":{"field":"a","type":"quantitative"}}},
{"data":{"name":"bands"},"mark":{"type":"rule","color":"#a8a8a8","strokeWidth":1},"encoding":{"x":{"field":"b","type":"quantitative"}}},
{"data":{"values":[{}]},"mark":{"type":"rule","color":"#000","strokeWidth":1},"encoding":{"x":{"datum":0},"y":{"datum":73},"y2":{"datum":278}}},
{"data":{"values":[{"label":"MAR041"}]},"mark":{"type":"point","shape":"M-1,-0.306L1,-0.306L1,0.306L-1,0.306Z","size":8100,"filled":true,"fill":"#fff","stroke":"#000","strokeWidth":2,"opacity":1},"encoding":{"x":{"datum":117.3},"y":{"datum":144}}},
{"data":{"values":[{"label":"MAR041"}]},"mark":{"type":"text","font":"Liberation Serif","fontSize":21,"color":"#000"},"encoding":{"x":{"datum":117.3},"y":{"datum":144},"text":{"field":"label"}}}
]},
{"width":1146,"height":54,"layer":[
{"data":{"name":"d"},"transform":[{"filter":"datum.s==='MAR044'"}],"mark":{"type":"line","color":"#cf1b1b","strokeWidth":2.4,"strokeJoin":"round"},
"encoding":{"x":{"field":"x","type":"quantitative","scale":{"domain":[0,190],"nice":false,"zero":false},"axis":null},
"y":{"field":"v","type":"quantitative","scale":{"domain":[42,326],"nice":false,"zero":false},"axis":{"tickCount":100,"values":[80,100,120,140,160,180,200,220,240,260,280],"labelExpr":"datum.value % 100 === 0 ? datum.label : ''","tickSize":{"condition":{"test":"datum.value % 100 === 0","value":5},"value":3},"gridOpacity":{"condition":{"test":"datum.value % 100 === 0","value":1},"value":0}}}}},
{"data":{"name":"bands"},"mark":{"type":"rect","color":"#bcbcbc","opacity":0.5},"encoding":{"x":{"field":"a","type":"quantitative"},"x2":{"field":"b"}}},
{"data":{"name":"bands"},"mark":{"type":"rule","color":"#a8a8a8","strokeWidth":1},"encoding":{"x":{"field":"a","type":"quantitative"}}},
{"data":{"name":"bands"},"mark":{"type":"rule","color":"#a8a8a8","strokeWidth":1},"encoding":{"x":{"field":"b","type":"quantitative"}}},
{"data":{"values":[{}]},"mark":{"type":"rule","color":"#000","strokeWidth":1},"encoding":{"x":{"datum":0},"y":{"datum":79},"y2":{"datum":289}}},
{"data":{"values":[{"label":"MAR044"}]},"mark":{"type":"point","shape":"M-1,-0.306L1,-0.306L1,0.306L-1,0.306Z","size":8100,"filled":true,"fill":"#fff","stroke":"#000","strokeWidth":2,"opacity":1},"encoding":{"x":{"datum":117.3},"y":{"datum":150}}},
{"data":{"values":[{"label":"MAR044"}]},"mark":{"type":"text","font":"Liberation Serif","fontSize":21,"color":"#000"},"encoding":{"x":{"datum":117.3},"y":{"datum":150},"text":{"field":"label"}}}
]},
{"width":1146,"height":55,"layer":[
{"data":{"name":"d"},"transform":[{"filter":"datum.s==='MAR045'"}],"mark":{"type":"line","color":"#cf1b1b","strokeWidth":2.4,"strokeJoin":"round"},
"encoding":{"x":{"field":"x","type":"quantitative","scale":{"domain":[0,190],"nice":false,"zero":false},"axis":null},
"y":{"field":"v","type":"quantitative","scale":{"domain":[45,320],"nice":false,"zero":false},"axis":{"tickCount":100,"values":[100,120,140,160,180,200,220,240,260,280],"labelExpr":"datum.value % 100 === 0 ? datum.label : ''","tickSize":{"condition":{"test":"datum.value % 100 === 0","value":5},"value":3},"gridOpacity":{"condition":{"test":"datum.value % 100 === 0","value":1},"value":0}}}}},
{"data":{"name":"bands"},"mark":{"type":"rect","color":"#bcbcbc","opacity":0.5},"encoding":{"x":{"field":"a","type":"quantitative"},"x2":{"field":"b"}}},
{"data":{"name":"bands"},"mark":{"type":"rule","color":"#a8a8a8","strokeWidth":1},"encoding":{"x":{"field":"a","type":"quantitative"}}},
{"data":{"name":"bands"},"mark":{"type":"rule","color":"#a8a8a8","strokeWidth":1},"encoding":{"x":{"field":"b","type":"quantitative"}}},
{"data":{"values":[{}]},"mark":{"type":"rule","color":"#000","strokeWidth":1},"encoding":{"x":{"datum":0},"y":{"datum":85},"y2":{"datum":280}}},
{"data":{"values":[{"label":"MAR045"}]},"mark":{"type":"point","shape":"M-1,-0.306L1,-0.306L1,0.306L-1,0.306Z","size":8100,"filled":true,"fill":"#fff","stroke":"#000","strokeWidth":2,"opacity":1},"encoding":{"x":{"datum":126.4},"y":{"datum":135}}},
{"data":{"values":[{"label":"MAR045"}]},"mark":{"type":"text","font":"Liberation Serif","fontSize":21,"color":"#000"},"encoding":{"x":{"datum":126.4},"y":{"datum":135},"text":{"field":"label"}}}
]},
{"width":1146,"height":52,"layer":[
{"data":{"name":"d"},"transform":[{"filter":"datum.s==='MAR006'"}],"mark":{"type":"line","color":"#cf1b1b","strokeWidth":2.4,"strokeJoin":"round"},
"encoding":{"x":{"field":"x","type":"quantitative","scale":{"domain":[0,190],"nice":false,"zero":false},"axis":null},
"y":{"field":"v","type":"quantitative","scale":{"domain":[57,283],"nice":false,"zero":false},"axis":{"tickCount":100,"values":[100,120,140,160,180,200,220,240],"labelExpr":"datum.value % 100 === 0 ? datum.label : ''","tickSize":{"condition":{"test":"datum.value % 100 === 0","value":5},"value":3},"gridOpacity":{"condition":{"test":"datum.value % 100 === 0","value":1},"value":0}}}}},
{"data":{"name":"bands"},"mark":{"type":"rect","color":"#bcbcbc","opacity":0.5},"encoding":{"x":{"field":"a","type":"quantitative"},"x2":{"field":"b"}}},
{"data":{"name":"bands"},"mark":{"type":"rule","color":"#a8a8a8","strokeWidth":1},"encoding":{"x":{"field":"a","type":"quantitative"}}},
{"data":{"name":"bands"},"mark":{"type":"rule","color":"#a8a8a8","strokeWidth":1},"encoding":{"x":{"field":"b","type":"quantitative"}}},
{"data":{"values":[{}]},"mark":{"type":"rule","color":"#000","strokeWidth":1},"encoding":{"x":{"datum":0},"y":{"datum":87},"y2":{"datum":253}}},
{"data":{"values":[{"label":"MAR006"}]},"mark":{"type":"point","shape":"M-1,-0.306L1,-0.306L1,0.306L-1,0.306Z","size":8100,"filled":true,"fill":"#fff","stroke":"#000","strokeWidth":2,"opacity":1},"encoding":{"x":{"datum":152.2},"y":{"datum":108}}},
{"data":{"values":[{"label":"MAR006"}]},"mark":{"type":"text","font":"Liberation Serif","fontSize":21,"color":"#000"},"encoding":{"x":{"datum":152.2},"y":{"datum":108},"text":{"field":"label"}}}
]},
{"width":1146,"height":57,"layer":[
{"data":{"name":"d"},"transform":[{"filter":"datum.s==='MAR008'"}],"mark":{"type":"line","color":"#cf1b1b","strokeWidth":2.4,"strokeJoin":"round"},
"encoding":{"x":{"field":"x","type":"quantitative","scale":{"domain":[0,190],"nice":false,"zero":false},"axis":null},
"y":{"field":"v","type":"quantitative","scale":{"domain":[27,474],"nice":false,"zero":false},"axis":{"tickCount":100,"values":[100,150,200,250,300,350,400],"labelExpr":"datum.value % 200 === 0 ? datum.label : ''","tickSize":{"condition":{"test":"datum.value % 200 === 0","value":5},"value":3},"gridOpacity":{"condition":{"test":"datum.value % 200 === 0","value":1},"value":0}}}}},
{"data":{"name":"bands"},"mark":{"type":"rect","color":"#bcbcbc","opacity":0.5},"encoding":{"x":{"field":"a","type":"quantitative"},"x2":{"field":"b"}}},
{"data":{"name":"bands"},"mark":{"type":"rule","color":"#a8a8a8","strokeWidth":1},"encoding":{"x":{"field":"a","type":"quantitative"}}},
{"data":{"name":"bands"},"mark":{"type":"rule","color":"#a8a8a8","strokeWidth":1},"encoding":{"x":{"field":"b","type":"quantitative"}}},
{"data":{"values":[{}]},"mark":{"type":"rule","color":"#000","strokeWidth":1},"encoding":{"x":{"datum":0},"y":{"datum":82},"y2":{"datum":403}}},
{"data":{"values":[{"label":"MAR008"}]},"mark":{"type":"point","shape":"M-1,-0.306L1,-0.306L1,0.306L-1,0.306Z","size":8100,"filled":true,"fill":"#fff","stroke":"#000","strokeWidth":2,"opacity":1},"encoding":{"x":{"datum":155.3},"y":{"datum":130}}},
{"data":{"values":[{"label":"MAR008"}]},"mark":{"type":"text","font":"Liberation Serif","fontSize":21,"color":"#000"},"encoding":{"x":{"datum":155.3},"y":{"datum":130},"text":{"field":"label"}}}
]},
{"width":1146,"height":54,"layer":[
{"data":{"name":"d"},"transform":[{"filter":"datum.s==='MAR055'"}],"mark":{"type":"line","color":"#cf1b1b","strokeWidth":2.4,"strokeJoin":"round"},
"encoding":{"x":{"field":"x","type":"quantitative","scale":{"domain":[0,190],"nice":false,"zero":false},"axis":null},
"y":{"field":"v","type":"quantitative","scale":{"domain":[80,350],"nice":false,"zero":false},"axis":{"tickCount":100,"values":[120,140,160,180,200,220,240,260,280,300,320],"labelExpr":"datum.value === 200 ? datum.label : ''","tickSize":{"condition":{"test":"datum.value === 200","value":5},"value":3},"gridOpacity":{"condition":{"test":"datum.value === 200","value":1},"value":0}}}}},
{"data":{"name":"bands"},"mark":{"type":"rect","color":"#bcbcbc","opacity":0.5},"encoding":{"x":{"field":"a","type":"quantitative"},"x2":{"field":"b"}}},
{"data":{"name":"bands"},"mark":{"type":"rule","color":"#a8a8a8","strokeWidth":1},"encoding":{"x":{"field":"a","type":"quantitative"}}},
{"data":{"name":"bands"},"mark":{"type":"rule","color":"#a8a8a8","strokeWidth":1},"encoding":{"x":{"field":"b","type":"quantitative"}}},
{"data":{"values":[{}]},"mark":{"type":"rule","color":"#000","strokeWidth":1},"encoding":{"x":{"datum":0},"y":{"datum":115},"y2":{"datum":320}}},
{"data":{"values":[{"label":"MAR055"}]},"mark":{"type":"point","shape":"M-1,-0.306L1,-0.306L1,0.306L-1,0.306Z","size":8100,"filled":true,"fill":"#fff","stroke":"#000","strokeWidth":2,"opacity":1},"encoding":{"x":{"datum":171.2},"y":{"datum":133}}},
{"data":{"values":[{"label":"MAR055"}]},"mark":{"type":"text","font":"Liberation Serif","fontSize":21,"color":"#000"},"encoding":{"x":{"datum":171.2},"y":{"datum":133},"text":{"field":"label"}}}
]},
{"width":1146,"height":56,"layer":[
{"data":{"name":"d"},"transform":[{"filter":"datum.s==='MAR048'"}],"mark":{"type":"line","color":"#cf1b1b","strokeWidth":2.4,"strokeJoin":"round"},
"encoding":{"x":{"field":"x","type":"quantitative","scale":{"domain":[0,190],"nice":false,"zero":false},"axis":null},
"y":{"field":"v","type":"quantitative","scale":{"domain":[54,171],"nice":false,"zero":false},"axis":{"tickCount":100,"values":[80,90,100,110,120,130,140,150],"labelExpr":"datum.value % 50 === 0 ? datum.label : ''","tickSize":{"condition":{"test":"datum.value % 50 === 0","value":5},"value":3},"gridOpacity":{"condition":{"test":"datum.value % 50 === 0","value":1},"value":0}}}}},
{"data":{"name":"bands"},"mark":{"type":"rect","color":"#bcbcbc","opacity":0.5},"encoding":{"x":{"field":"a","type":"quantitative"},"x2":{"field":"b"}}},
{"data":{"name":"bands"},"mark":{"type":"rule","color":"#a8a8a8","strokeWidth":1},"encoding":{"x":{"field":"a","type":"quantitative"}}},
{"data":{"name":"bands"},"mark":{"type":"rule","color":"#a8a8a8","strokeWidth":1},"encoding":{"x":{"field":"b","type":"quantitative"}}},
{"data":{"values":[{}]},"mark":{"type":"rule","color":"#000","strokeWidth":1},"encoding":{"x":{"datum":0},"y":{"datum":73},"y2":{"datum":158}}}
]},
{"width":1146,"height":53,"layer":[
{"data":{"name":"d"},"transform":[{"filter":"datum.s==='MAR014'"}],"mark":{"type":"line","color":"#cf1b1b","strokeWidth":2.4,"strokeJoin":"round"},
"encoding":{"x":{"field":"x","type":"quantitative","scale":{"domain":[0,190],"nice":false,"zero":false},"axis":null},
"y":{"field":"v","type":"quantitative","scale":{"domain":[17,478],"nice":false,"zero":false},"axis":{"tickCount":100,"values":[100,150,200,250,300,350,400],"labelExpr":"datum.value % 200 === 0 ? datum.label : ''","tickSize":{"condition":{"test":"datum.value % 200 === 0","value":5},"value":3},"gridOpacity":{"condition":{"test":"datum.value % 200 === 0","value":1},"value":0}}}}},
{"data":{"name":"bands"},"mark":{"type":"rect","color":"#bcbcbc","opacity":0.5},"encoding":{"x":{"field":"a","type":"quantitative"},"x2":{"field":"b"}}},
{"data":{"name":"bands"},"mark":{"type":"rule","color":"#a8a8a8","strokeWidth":1},"encoding":{"x":{"field":"a","type":"quantitative"}}},
{"data":{"name":"bands"},"mark":{"type":"rule","color":"#a8a8a8","strokeWidth":1},"encoding":{"x":{"field":"b","type":"quantitative"}}},
{"data":{"values":[{}]},"mark":{"type":"rule","color":"#000","strokeWidth":1},"encoding":{"x":{"datum":0},"y":{"datum":95},"y2":{"datum":408}}},
{"data":{"values":[{"label":"MAR048"}]},"mark":{"type":"point","shape":"M-1,-0.306L1,-0.306L1,0.306L-1,0.306Z","size":8100,"filled":true,"fill":"#fff","stroke":"#000","strokeWidth":2,"opacity":1},"encoding":{"x":{"datum":58.5},"y":{"datum":469}}},
{"data":{"values":[{"label":"MAR048"}]},"mark":{"type":"text","font":"Liberation Serif","fontSize":21,"color":"#000"},"encoding":{"x":{"datum":58.5},"y":{"datum":469},"text":{"field":"label"}}},
{"data":{"values":[{"label":"MAR014"}]},"mark":{"type":"point","shape":"M-1,-0.306L1,-0.306L1,0.306L-1,0.306Z","size":8100,"filled":true,"fill":"#fff","stroke":"#000","strokeWidth":2,"opacity":1},"encoding":{"x":{"datum":16.5},"y":{"datum":275}}},
{"data":{"values":[{"label":"MAR014"}]},"mark":{"type":"text","font":"Liberation Serif","fontSize":21,"color":"#000"},"encoding":{"x":{"datum":16.5},"y":{"datum":275},"text":{"field":"label"}}}
]},
{"width":1146,"height":55,"layer":[
{"data":{"name":"d"},"transform":[{"filter":"datum.s==='MAR001'"}],"mark":{"type":"line","color":"#cf1b1b","strokeWidth":2.4,"strokeJoin":"round"},
"encoding":{"x":{"field":"x","type":"quantitative","scale":{"domain":[0,190],"nice":false,"zero":false},"axis":null},
"y":{"field":"v","type":"quantitative","scale":{"domain":[50,325],"nice":false,"zero":false},"axis":{"tickCount":100,"values":[100,120,140,160,180,200,220,240,260,280],"labelExpr":"datum.value % 100 === 0 ? datum.label : ''","tickSize":{"condition":{"test":"datum.value % 100 === 0","value":5},"value":3},"gridOpacity":{"condition":{"test":"datum.value % 100 === 0","value":1},"value":0}}}}},
{"data":{"name":"bands"},"mark":{"type":"rect","color":"#bcbcbc","opacity":0.5},"encoding":{"x":{"field":"a","type":"quantitative"},"x2":{"field":"b"}}},
{"data":{"name":"bands"},"mark":{"type":"rule","color":"#a8a8a8","strokeWidth":1},"encoding":{"x":{"field":"a","type":"quantitative"}}},
{"data":{"name":"bands"},"mark":{"type":"rule","color":"#a8a8a8","strokeWidth":1},"encoding":{"x":{"field":"b","type":"quantitative"}}},
{"data":{"values":[{}]},"mark":{"type":"rule","color":"#000","strokeWidth":1},"encoding":{"x":{"datum":0},"y":{"datum":85},"y2":{"datum":290}}},
{"data":{"values":[{"label":"MAR001"}]},"mark":{"type":"point","shape":"M-1,-0.306L1,-0.306L1,0.306L-1,0.306Z","size":8100,"filled":true,"fill":"#fff","stroke":"#000","strokeWidth":2,"opacity":1},"encoding":{"x":{"datum":20.9},"y":{"datum":198}}},
{"data":{"values":[{"label":"MAR001"}]},"mark":{"type":"text","font":"Liberation Serif","fontSize":21,"color":"#000"},"encoding":{"x":{"datum":20.9},"y":{"datum":198},"text":{"field":"label"}}}
]},
{"width":1146,"height":54,"layer":[
{"data":{"name":"d"},"transform":[{"filter":"datum.s==='MAR056'"}],"mark":{"type":"line","color":"#cf1b1b","strokeWidth":2.4,"strokeJoin":"round"},
"encoding":{"x":{"field":"x","type":"quantitative","scale":{"domain":[0,190],"nice":false,"zero":false},"axis":null},
"y":{"field":"v","type":"quantitative","scale":{"domain":[55,190],"nice":false,"zero":false},"axis":{"tickCount":100,"values":[80,90,100,110,120,130,140,150,160,170],"labelExpr":"datum.value % 50 === 0 ? datum.label : ''","tickSize":{"condition":{"test":"datum.value % 50 === 0","value":5},"value":3},"gridOpacity":{"condition":{"test":"datum.value % 50 === 0","value":1},"value":0}}}}},
{"data":{"name":"bands"},"mark":{"type":"rect","color":"#bcbcbc","opacity":0.5},"encoding":{"x":{"field":"a","type":"quantitative"},"x2":{"field":"b"}}},
{"data":{"name":"bands"},"mark":{"type":"rule","color":"#a8a8a8","strokeWidth":1},"encoding":{"x":{"field":"a","type":"quantitative"}}},
{"data":{"name":"bands"},"mark":{"type":"rule","color":"#a8a8a8","strokeWidth":1},"encoding":{"x":{"field":"b","type":"quantitative"}}},
{"data":{"values":[{}]},"mark":{"type":"rule","color":"#000","strokeWidth":1},"encoding":{"x":{"datum":0},"y":{"datum":75},"y2":{"datum":175}}},
{"data":{"values":[{"label":"MAR056"}]},"mark":{"type":"point","shape":"M-1,-0.306L1,-0.306L1,0.306L-1,0.306Z","size":8100,"filled":true,"fill":"#fff","stroke":"#000","strokeWidth":2,"opacity":1},"encoding":{"x":{"datum":71.7},"y":{"datum":60}}},
{"data":{"values":[{"label":"MAR056"}]},"mark":{"type":"text","font":"Liberation Serif","fontSize":21,"color":"#000"},"encoding":{"x":{"datum":71.7},"y":{"datum":60},"text":{"field":"label"}}}
]},
{"width":1146,"height":61,"layer":[
{"data":{"name":"d"},"transform":[{"filter":"datum.s==='ALL'"}],"mark":{"type":"line","color":"#5b0b0b","strokeWidth":2.6,"strokeJoin":"round"},
"encoding":{"x":{"field":"x","type":"quantitative","scale":{"domain":[0,190],"nice":false,"zero":false},"axis":{"orient":"bottom","title":null,"tickCount":190,"labelExpr":"datum.value % 5 === 0 ? datum.label : ''","labelOverlap":false,"labelFlush":false,"grid":false,"tickSize":{"condition":{"test":"datum.value % 5 === 0","value":5},"value":3},"labelPadding":1}},
"y":{"field":"v","type":"quantitative","scale":{"domain":[25,406],"nice":false,"zero":false},"axis":{"tickCount":100,"values":[80,100,120,140,160,180,200,220,240,260,280,300,320,340,360],"labelExpr":"datum.value % 100 === 0 ? datum.label : ''","labelFontSize":14,"tickSize":{"condition":{"test":"datum.value % 100 === 0","value":5},"value":3},"gridOpacity":{"condition":{"test":"datum.value % 100 === 0","value":1},"value":0}}}}},
{"data":{"name":"bands"},"mark":{"type":"rect","color":"#bcbcbc","opacity":0.5},"encoding":{"x":{"field":"a","type":"quantitative"},"x2":{"field":"b"}}},
{"data":{"name":"bands"},"mark":{"type":"rule","color":"#a8a8a8","strokeWidth":1},"encoding":{"x":{"field":"a","type":"quantitative"}}},
{"data":{"name":"bands"},"mark":{"type":"rule","color":"#a8a8a8","strokeWidth":1},"encoding":{"x":{"field":"b","type":"quantitative"}}},
{"data":{"values":[{}]},"mark":{"type":"rule","color":"#000","strokeWidth":1},"encoding":{"x":{"datum":0},"y":{"datum":68},"y2":{"datum":369}}}
]}
]
}
